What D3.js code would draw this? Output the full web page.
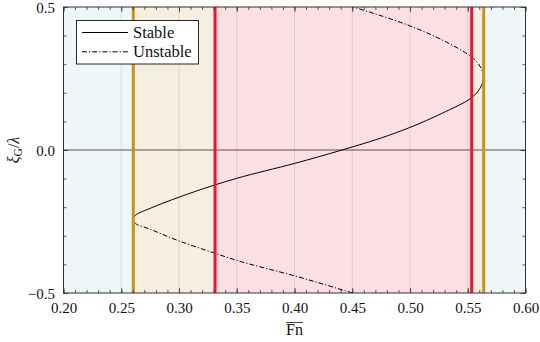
<!DOCTYPE html>
<html>
<head>
<meta charset="utf-8">
<script src="https://cdn.jsdelivr.net/npm/d3@7"></script>
<style>
  body { margin: 0; background: #fff; }
  svg { display: block; }
</style>
</head>
<body>
<script>
// Froude-number bands (edges) and what sits in each band
const bandEdges = [0.2, 0.2604, 0.3312, 0.5534, 0.5638, 0.6]
const bandKinds = ['outer', 'mid', 'inner', 'mid', 'outer']

const goldLines = [0.2604, 0.5638]
const redLines = [0.3312, 0.5534]

// stable branch
const stableFn = [0.2604, 0.2623, 0.2750, 0.3000, 0.3312, 0.3500, 0.4000, 0.4411, 0.4750, 0.5000, 0.5270, 0.5534, 0.5615, 0.5638]
const stableXi = [-0.241, -0.228, -0.204, -0.165, -0.122, -0.099, -0.047, 0.0, 0.042, 0.079, 0.127, 0.183, 0.222, 0.252]

// unstable branch, lower part
const unstLowFn = [0.4502, 0.4000, 0.3500, 0.3312, 0.3000, 0.2750, 0.2620, 0.2604]
const unstLowXi = [-0.5, -0.440, -0.386, -0.361, -0.318, -0.277, -0.256, -0.241]

// unstable branch, upper part
const unstUpFn = [0.5638, 0.5610, 0.5550, 0.5480, 0.5350, 0.5200, 0.5000, 0.4509]
const unstUpXi = [0.252, 0.290, 0.320, 0.340, 0.370, 0.400, 0.434, 0.5]

const xTicks = [0.20, 0.25, 0.30, 0.35, 0.40, 0.45, 0.50, 0.55, 0.60]
const yTicks = [-0.5, 0.0, 0.5]

const legendLabels = ['Stable', 'Unstable']

const bandColor = {outer: '#eef6fa', mid: '#f5efdf', inner: '#fbdfe3'}
const gold = '#c99118'
const red = '#e6173d'
const font = '"Liberation Serif", "DejaVu Serif", serif'

const width = 540
const height = 342
const margin = {top: 7, right: 14.5, bottom: 49, left: 63.5}

const svg = d3.select('body').append('svg')
  .attr('viewBox', `0 0 ${width} ${height}`)
  .attr('width', width)
  .attr('height', height)
  .attr('font-family', font)

const x = d3.scaleLinear()
  .domain([0.2, 0.6])
  .range([margin.left, width - margin.right])

const y = d3.scaleLinear()
  .domain([-0.5, 0.5])
  .range([height - margin.bottom, margin.top])

const zip = (a, b) => a.map((v, i) => [v, b[i]])

// coloured bands
svg.append('g')
  .selectAll('rect')
  .data(bandKinds)
  .join('rect')
    .attr('x', (d, i) => x(bandEdges[i]))
    .attr('y', y(0.5))
    .attr('width', (d, i) => x(bandEdges[i + 1]) - x(bandEdges[i]))
    .attr('height', y(-0.5) - y(0.5))
    .attr('fill', d => bandColor[d])

// x grid
svg.append('g')
  .selectAll('line')
  .data(xTicks.slice(1, -1))
  .join('line')
    .attr('x1', d => x(d)).attr('x2', d => x(d))
    .attr('y1', y(0.5)).attr('y2', y(-0.5))
    .attr('stroke', '#000')
    .attr('stroke-opacity', 0.1)
    .attr('stroke-width', 1)

// zero line
svg.append('line')
  .attr('x1', x(0.2)).attr('x2', x(0.6))
  .attr('y1', y(0)).attr('y2', y(0))
  .attr('stroke', '#555')
  .attr('stroke-width', 1.2)

const line = d3.line()
  .x(d => x(d[0]))
  .y(d => y(d[1]))
  .curve(d3.curveMonotoneY)

svg.append('path')
  .datum(zip(stableFn, stableXi))
  .attr('d', line)
  .attr('fill', 'none')
  .attr('stroke', '#000')
  .attr('stroke-width', 1)

const dash = '5,2,1.2,2'

for (const branch of [zip(unstLowFn, unstLowXi), zip(unstUpFn, unstUpXi)]) {
  svg.append('path')
    .datum(branch)
    .attr('d', line)
    .attr('fill', 'none')
    .attr('stroke', '#000')
    .attr('stroke-width', 1)
    .attr('stroke-dasharray', dash)
}

// vertical marker lines
const vlines = goldLines.map(v => [v, gold]).concat(redLines.map(v => [v, red]))
svg.append('g')
  .selectAll('line')
  .data(vlines)
  .join('line')
    .attr('x1', d => x(d[0])).attr('x2', d => x(d[0]))
    .attr('y1', y(0.5)).attr('y2', y(-0.5))
    .attr('stroke', d => d[1])
    .attr('stroke-width', 3)

// axes
const minorX = d3.range(20, 61).map(v => v / 100)
const minorY = d3.range(-5, 6).map(v => v / 10)

function styleAxis(g) {
  g.attr('font-family', font)
  g.select('.domain').remove()
  g.selectAll('.tick line').attr('stroke', '#333').attr('stroke-width', 0.8)
  g.selectAll('text')
    .attr('font-size', 15)
    .attr('fill', '#111')
}

svg.append('g')
  .attr('transform', `translate(0,${y(-0.5)})`)
  .call(d3.axisBottom(x).tickValues(minorX).tickSize(-3).tickFormat(''))
  .call(styleAxis)
svg.append('g')
  .attr('transform', `translate(0,${y(-0.5)})`)
  .call(d3.axisBottom(x).tickValues(xTicks).tickSize(-5).tickPadding(9).tickFormat(d3.format('.2f')))
  .call(styleAxis)
svg.append('g')
  .attr('transform', `translate(0,${y(0.5)})`)
  .call(d3.axisTop(x).tickValues(minorX).tickSize(-3).tickFormat(''))
  .call(styleAxis)
svg.append('g')
  .attr('transform', `translate(0,${y(0.5)})`)
  .call(d3.axisTop(x).tickValues(xTicks).tickSize(-5).tickFormat(''))
  .call(styleAxis)

svg.append('g')
  .attr('transform', `translate(${x(0.2)},0)`)
  .call(d3.axisLeft(y).tickValues(minorY).tickSize(-3).tickFormat(''))
  .call(styleAxis)
svg.append('g')
  .attr('transform', `translate(${x(0.2)},0)`)
  .call(d3.axisLeft(y).tickValues(yTicks).tickSize(-5).tickPadding(8.5).tickFormat(d3.format('.1f')))
  .call(styleAxis)
  .call(g => g.selectAll('text').attr('dy', '0.36em'))
svg.append('g')
  .attr('transform', `translate(${x(0.6)},0)`)
  .call(d3.axisRight(y).tickValues(minorY).tickSize(-3).tickFormat(''))
  .call(styleAxis)
svg.append('g')
  .attr('transform', `translate(${x(0.6)},0)`)
  .call(d3.axisRight(y).tickValues(yTicks).tickSize(-5).tickFormat(''))
  .call(styleAxis)

// frame
svg.append('rect')
  .attr('x', x(0.2)).attr('y', y(0.5))
  .attr('width', x(0.6) - x(0.2))
  .attr('height', y(-0.5) - y(0.5))
  .attr('fill', 'none')
  .attr('stroke', '#333')
  .attr('stroke-width', 1)

// x title with overline
const xt = svg.append('text')
  .attr('x', (x(0.2) + x(0.6)) / 2)
  .attr('y', 334.5)
  .attr('text-anchor', 'middle')
  .attr('font-size', 16)
  .attr('fill', '#111')
  .text('Fn')
const bb = xt.node().getBBox()
svg.append('line')
  .attr('x1', bb.x).attr('x2', bb.x + bb.width)
  .attr('y1', 322.5).attr('y2', 322.5)
  .attr('stroke', '#111')
  .attr('stroke-width', 0.8)

// y title
const yt = svg.append('text')
  .attr('transform', `translate(19,150) rotate(-90)`)
  .attr('text-anchor', 'middle')
  .attr('font-size', 16)
  .attr('fill', '#111')
yt.append('tspan').attr('font-style', 'italic').text('ξ')
yt.append('tspan').attr('font-size', 11.5).attr('dy', 3).text('G')
yt.append('tspan').attr('dy', -3).text('/')
yt.append('tspan').attr('font-style', 'italic').text('λ')

// legend
const lg = svg.append('g')
lg.append('rect')
  .attr('x', 76.5).attr('y', 20.5)
  .attr('width', 122).attr('height', 43.5)
  .attr('fill', '#fff')
  .attr('stroke', '#111')
  .attr('stroke-width', 0.9)

const items = lg.selectAll('g')
  .data(legendLabels)
  .join('g')
    .attr('transform', (d, i) => `translate(0,${32.5 + i * 19.3})`)
items.append('line')
  .attr('x1', 82).attr('x2', 128)
  .attr('stroke', '#000')
  .attr('stroke-width', 1)
  .attr('stroke-dasharray', (d, i) => i ? dash : null)
items.append('text')
  .attr('x', 133)
  .attr('dy', '0.33em')
  .attr('font-size', 16.5)
  .attr('fill', '#111')
  .text(d => d)
</script>
</body>
</html>
